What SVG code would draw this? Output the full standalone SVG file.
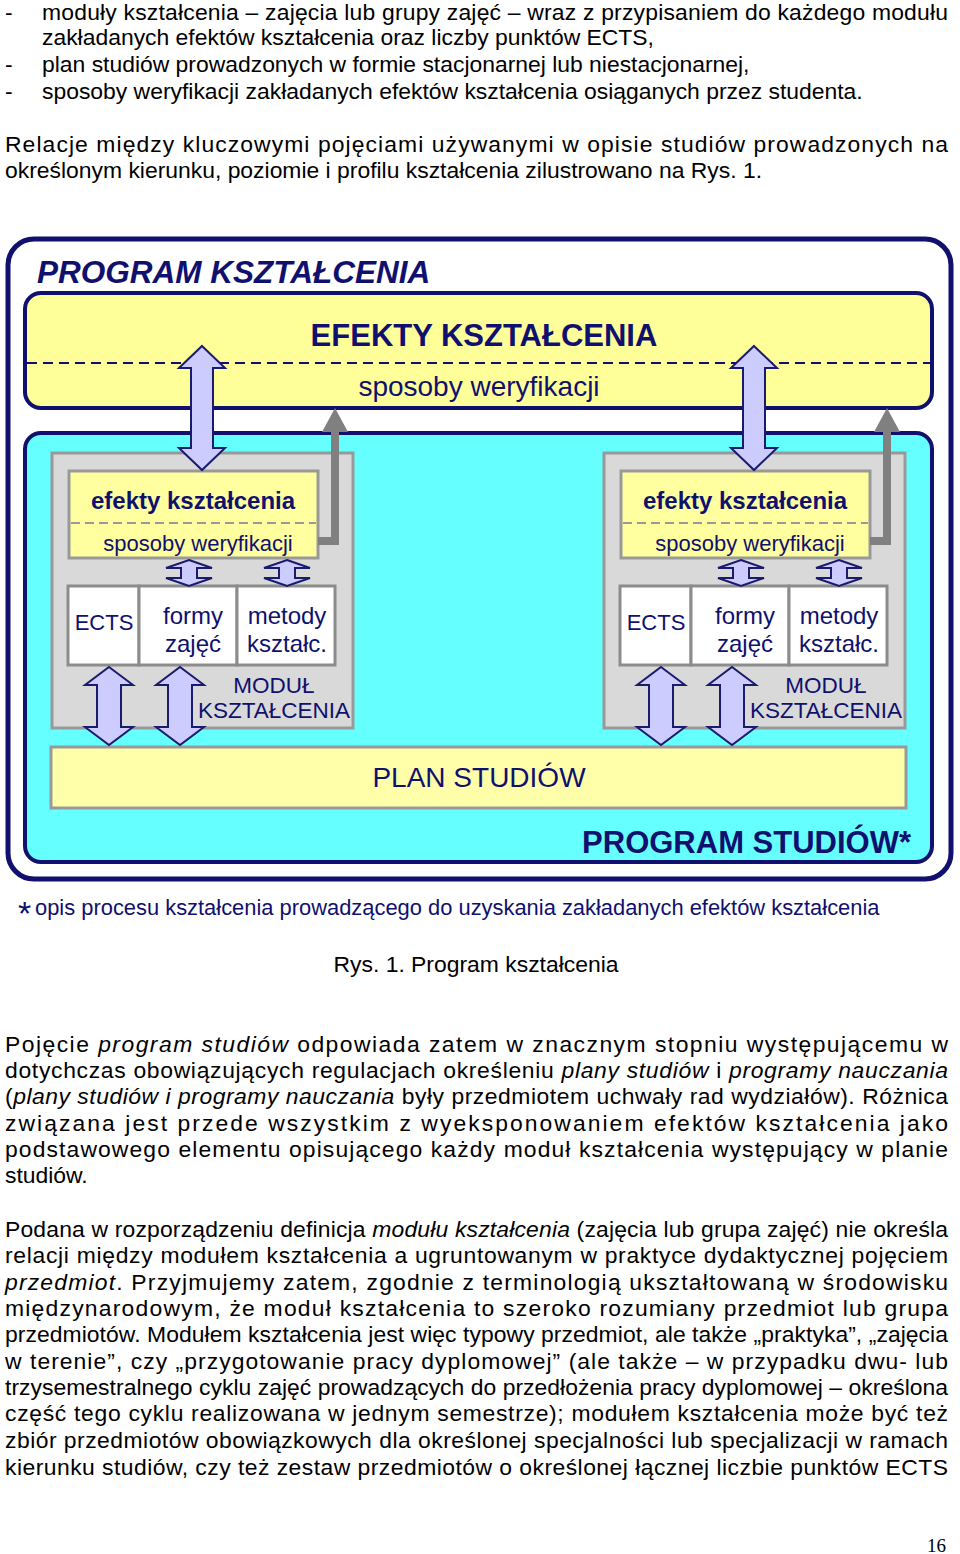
<svg xmlns="http://www.w3.org/2000/svg" width="960" height="1554" viewBox="0 0 960 1554">
<style>
text{font-family:"Liberation Sans",Arial,sans-serif}
.b{font-size:22.9px;fill:#000}
.n{fill:#10106e}
.da{fill:#ccccff;stroke:#1a1a6e;stroke-width:2}
.cell{fill:#fff;stroke:#8c8c8c;stroke-width:3}
.mod{fill:#d9d9d9;stroke:#999;stroke-width:3}
.iy{fill:#ffffa0;stroke:#999;stroke-width:3}
.ga{fill:none;stroke:#808080;stroke-width:8}
</style>
<defs>
<g id="module">
<rect class="mod" x="52" y="453" width="301" height="275"/>
<rect class="iy" x="69" y="471" width="249" height="87"/>
<line x1="71" y1="523" x2="316" y2="523" stroke="#999" stroke-width="2" stroke-dasharray="9,5"/>
<text class="n" x="193" y="509" font-size="24" font-weight="bold" text-anchor="middle">efekty kształcenia</text>
<text class="n" x="198" y="551" font-size="22" text-anchor="middle">sposoby weryfikacji</text>
<rect class="cell" x="68" y="586" width="71" height="79"/>
<rect class="cell" x="139" y="586" width="98" height="79"/>
<rect class="cell" x="237" y="586" width="98" height="79"/>
<text class="n" x="104" y="630" font-size="22" text-anchor="middle">ECTS</text>
<text class="n" x="193" y="624" font-size="24" text-anchor="middle">formy</text>
<text class="n" x="193" y="652" font-size="24" text-anchor="middle">zajęć</text>
<text class="n" x="287" y="624" font-size="24" text-anchor="middle">metody</text>
<text class="n" x="287" y="652" font-size="24" text-anchor="middle">kształc.</text>
<text class="n" x="274" y="693" font-size="22.5" text-anchor="middle">MODUŁ</text>
<text class="n" x="274" y="718" font-size="22.5" text-anchor="middle">KSZTAŁCENIA</text>
<path class="da" d="M189,560 L212,568 L197,568 L197,578 L212,578 L189,586 L166,578 L181,578 L181,568 L166,568 Z"/>
<path class="da" d="M287,560 L310,568 L295,568 L295,578 L310,578 L287,586 L264,578 L279,578 L279,568 L264,568 Z"/>
<path class="da" d="M109,667 L133,685 L121,685 L121,727 L133,727 L109,745 L85,727 L97,727 L97,685 L85,685 Z"/>
<path class="da" d="M180,667 L204,685 L192,685 L192,727 L204,727 L180,745 L156,727 L168,727 L168,685 L156,685 Z"/>
<path class="da" d="M202,346 L225,368 L213,368 L213,448 L225,448 L202,470 L179,448 L191,448 L191,368 L179,368 Z"/>
<path class="ga" d="M318,541 L335,541 L335,430"/>
<path d="M335,408 L348,432 L322,432 Z" fill="#808080"/>
</g>
</defs>

<text class="b" x="5" y="20">-</text>
<text class="b" x="42" y="20" textLength="906" lengthAdjust="spacing">moduły kształcenia – zajęcia lub grupy zajęć – wraz z przypisaniem do każdego modułu</text>
<text class="b" x="42" y="45">zakładanych efektów kształcenia oraz liczby punktów ECTS,</text>
<text class="b" x="5" y="72">-</text>
<text class="b" x="42" y="72">plan studiów prowadzonych w formie stacjonarnej lub niestacjonarnej,</text>
<text class="b" x="5" y="99">-</text>
<text class="b" x="42" y="99">sposoby weryfikacji zakładanych efektów kształcenia osiąganych przez studenta.</text>
<text class="b" x="5" y="152" textLength="943" lengthAdjust="spacing">Relacje między kluczowymi pojęciami używanymi w opisie studiów prowadzonych na</text>
<text class="b" x="5" y="178">określonym kierunku, poziomie i profilu kształcenia zilustrowano na Rys. 1.</text>

<g id="program-ksztalcenia">
<rect x="8" y="239" width="943" height="640" rx="26" fill="#fff" stroke="#10106e" stroke-width="5"/>
<text class="n" x="37" y="283" font-size="31.5" font-weight="bold" font-style="italic">PROGRAM KSZTAŁCENIA</text>
</g>
<g id="efekty-ksztalcenia">
<rect x="25" y="293" width="907" height="115" rx="16" fill="#ffff99" stroke="#10106e" stroke-width="4"/>
<line x1="27" y1="363" x2="930" y2="363" stroke="#10106e" stroke-width="2" stroke-dasharray="10,6"/>
<text class="n" x="484" y="346" font-size="31" font-weight="bold" text-anchor="middle">EFEKTY KSZTAŁCENIA</text>
<text class="n" x="479" y="396" font-size="28" text-anchor="middle">sposoby weryfikacji</text>
</g>
<g id="program-studiow">
<rect x="25" y="433" width="907" height="429" rx="16" fill="#66ffff" stroke="#10106e" stroke-width="4"/>
<text class="n" x="911" y="853" font-size="31" font-weight="bold" text-anchor="end">PROGRAM STUDIÓW*</text>
</g>
<g id="plan-studiow">
<rect x="51" y="747" width="855" height="61" fill="#ffffaa" stroke="#999" stroke-width="3"/>
<text class="n" x="479" y="787" font-size="28" text-anchor="middle">PLAN STUDIÓW</text>
</g>
<g id="modul-lewy"><use href="#module"/></g>
<g id="modul-prawy"><use href="#module" transform="translate(552,0)"/></g>
<g id="connectors"></g>

<text class="n" x="18" y="925" font-size="34">*</text>
<text class="n" x="35" y="915" font-size="21.9">opis procesu kształcenia prowadzącego do uzyskania zakładanych efektów kształcenia</text>
<text class="b" x="476" y="972" text-anchor="middle">Rys. 1. Program kształcenia</text>

<text class="b" x="5" y="1052" textLength="943" lengthAdjust="spacing">Pojęcie <tspan font-style="italic">program studiów</tspan> odpowiada zatem w znacznym stopniu występującemu w</text>
<text class="b" x="5" y="1078" textLength="943" lengthAdjust="spacing">dotychczas obowiązujących regulacjach określeniu <tspan font-style="italic">plany studiów</tspan> i <tspan font-style="italic">programy nauczania</tspan></text>
<text class="b" x="5" y="1104" textLength="943" lengthAdjust="spacing">(<tspan font-style="italic">plany studiów i programy nauczania</tspan> były przedmiotem uchwały rad wydziałów). Różnica</text>
<text class="b" x="5" y="1131" textLength="943" lengthAdjust="spacing">związana jest przede wszystkim z wyeksponowaniem efektów kształcenia jako</text>
<text class="b" x="5" y="1157" textLength="943" lengthAdjust="spacing">podstawowego elementu opisującego każdy moduł kształcenia występujący w planie</text>
<text class="b" x="5" y="1183">studiów.</text>
<text class="b" x="5" y="1237" textLength="943" lengthAdjust="spacing">Podana w rozporządzeniu definicja <tspan font-style="italic">modułu kształcenia</tspan> (zajęcia lub grupa zajęć) nie określa</text>
<text class="b" x="5" y="1263" textLength="943" lengthAdjust="spacing">relacji między modułem kształcenia a ugruntowanym w praktyce dydaktycznej pojęciem</text>
<text class="b" x="5" y="1290" textLength="943" lengthAdjust="spacing"><tspan font-style="italic">przedmiot</tspan>. Przyjmujemy zatem, zgodnie z terminologią ukształtowaną w środowisku</text>
<text class="b" x="5" y="1316" textLength="943" lengthAdjust="spacing">międzynarodowym, że moduł kształcenia to szeroko rozumiany przedmiot lub grupa</text>
<text class="b" x="5" y="1342" textLength="943" lengthAdjust="spacing">przedmiotów. Modułem kształcenia jest więc typowy przedmiot, ale także „praktyka”, „zajęcia</text>
<text class="b" x="5" y="1369" textLength="943" lengthAdjust="spacing">w terenie”, czy „przygotowanie pracy dyplomowej” (ale także – w przypadku dwu- lub</text>
<text class="b" x="5" y="1395" textLength="943" lengthAdjust="spacing">trzysemestralnego cyklu zajęć prowadzących do przedłożenia pracy dyplomowej – określona</text>
<text class="b" x="5" y="1421" textLength="943" lengthAdjust="spacing">część tego cyklu realizowana w jednym semestrze); modułem kształcenia może być też</text>
<text class="b" x="5" y="1448" textLength="943" lengthAdjust="spacing">zbiór przedmiotów obowiązkowych dla określonej specjalności lub specjalizacji w ramach</text>
<text class="b" x="5" y="1475" textLength="943" lengthAdjust="spacing">kierunku studiów, czy też zestaw przedmiotów o określonej łącznej liczbie punktów ECTS</text>
<text x="946" y="1552" font-size="19" text-anchor="end" style="font-family:'Liberation Serif',serif">16</text>
</svg>
